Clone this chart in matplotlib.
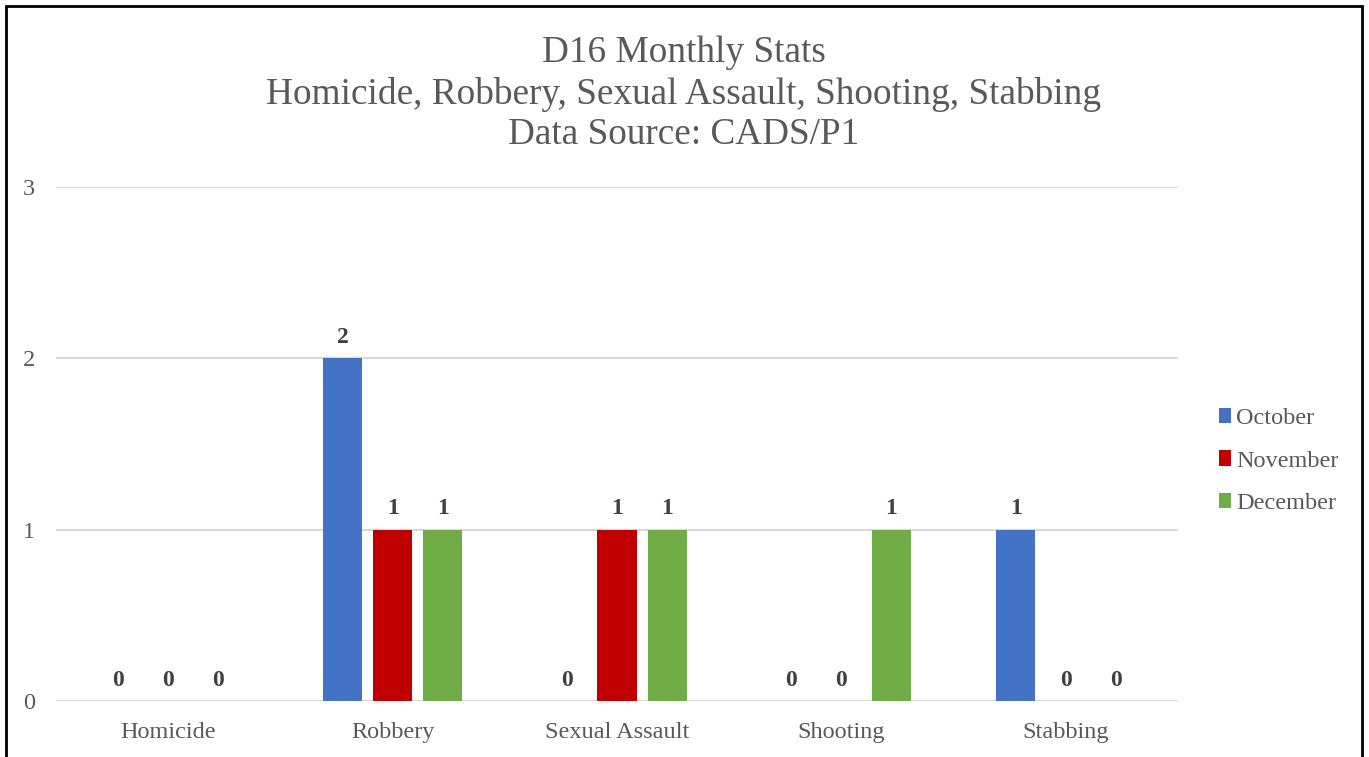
import numpy as np
import matplotlib.pyplot as plt
from matplotlib.patches import Rectangle

# dados
categorias = ["Homicide", "Robbery", "Sexual Assault", "Shooting", "Stabbing"]
meses = ["October", "November", "December"]
october = [0, 2, 0, 0, 1]
november = [0, 1, 1, 0, 0]
december = [0, 1, 1, 1, 0]

cores = ["#4472C4", "#C00000", "#70AD47"]

plt.rcParams['font.family'] = ['Liberation Serif', 'DejaVu Serif']

fig = plt.figure(figsize=(13.69, 7.57), dpi=100)

ax = fig.add_axes([56 / 1369, 1 - 701 / 757, 1122 / 1369, (701 - 187) / 757])

x = np.arange(len(categorias))
largura = 0.174
passo = 0.223

for i, (nome, valores) in enumerate(zip(meses, [october, november, december])):
    pos = x + (i - 1) * passo
    ax.bar(pos, valores, width=largura, color=cores[i], label=nome, zorder=3)
    for px, v in zip(pos, valores):
        ax.annotate(
            str(v),
            (px, v),
            xytext=(0, 15),
            textcoords="offset points",
            ha='center',
            va='center',
            fontsize=17,
            fontweight='bold',
            color='#404040'
        )

ax.set_xlim(-0.5, len(categorias) - 0.5)
ax.set_ylim(0, 3)
ax.set_yticks([0, 1, 2, 3])
ax.set_xticks(x)
ax.set_xticklabels(categorias)

ax.grid(axis='y', color='#D9D9D9', linewidth=1.5, zorder=0)
for s in ax.spines.values():
    s.set_visible(False)

ax.tick_params(axis='both', length=0, labelsize=17.5, labelcolor='#595959')
ax.tick_params(axis='y', pad=24)
ax.tick_params(axis='x', pad=15)

for lbl in ax.get_yticklabels():
    lbl.set_horizontalalignment('left')

fig.legend(
    loc='center left',
    bbox_to_anchor=(1197 / 1369, 1 - 461 / 757),
    frameon=False,
    fontsize=17.5,
    labelcolor='#595959',
    handlelength=0.5,
    handleheight=0.6,
    handletextpad=0.2,
    labelspacing=0.87
)

fig.text(
    684 / 1369,
    1 - 94 / 757,
    "D16 Monthly Stats\nHomicide, Robbery, Sexual Assault, Shooting, Stabbing\nData Source: CADS/P1",
    ha='center',
    va='center',
    fontsize=26.8,
    color='#595959',
    linespacing=1.23
)

# borda
fig.patches.append(Rectangle(
    (6 / 1369, -0.05),
    (1362 - 6) / 1369,
    1.05 - 6 / 757,
    transform=fig.transFigure,
    fill=False,
    edgecolor='black',
    linewidth=2
))

plt.savefig("out.png", dpi=100)
plt.close()
